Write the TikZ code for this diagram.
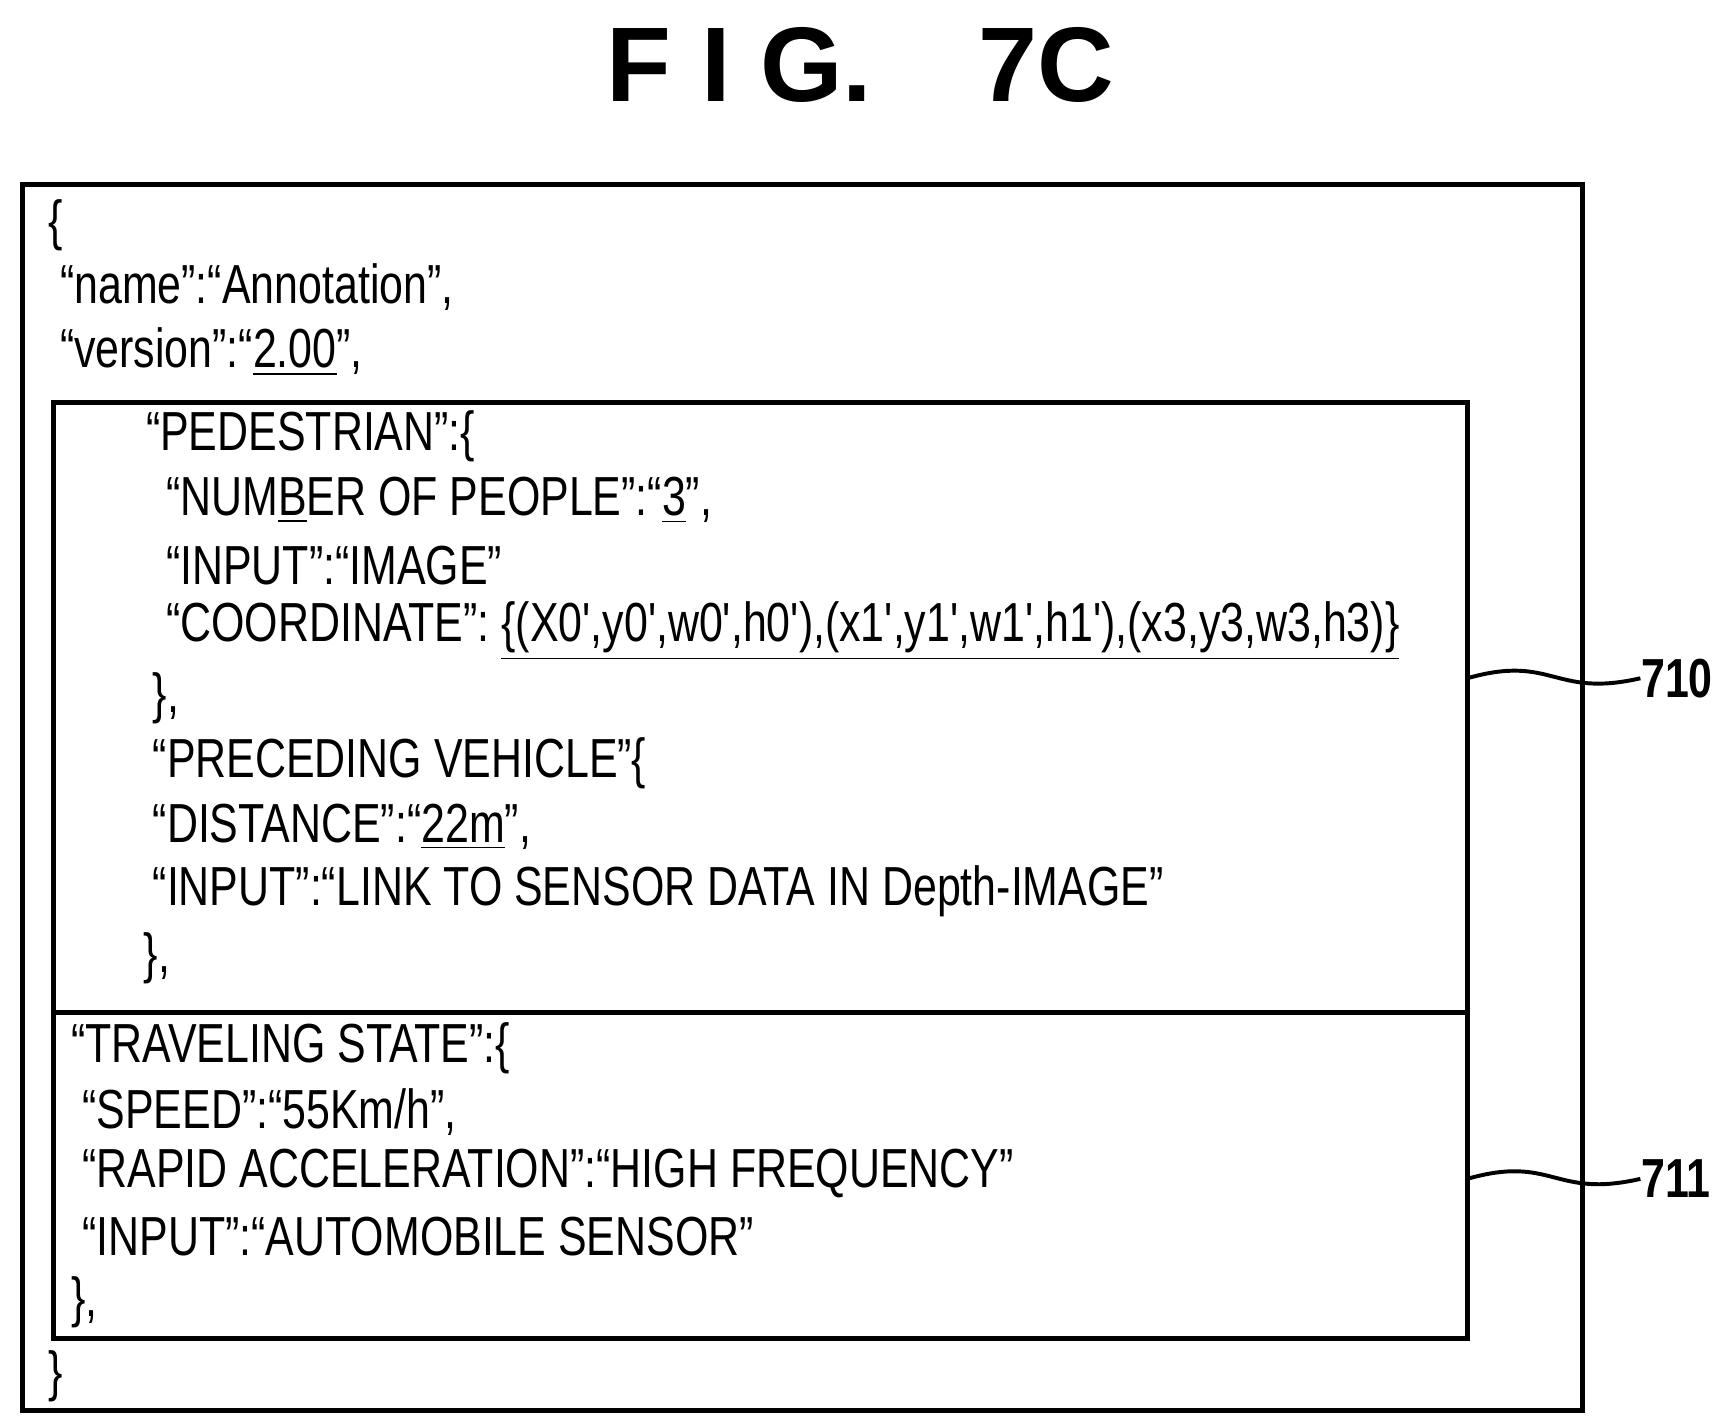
\documentclass[tikz,border=0pt]{standalone}
\usepackage{fontspec}
\setmainfont{Liberation Sans}[FakeStretch=0.78,Ligatures=TeXOff]
\newfontfamily\titlefont{Liberation Sans}[FakeStretch=1.0]
\newcommand{\pr}{'}
\begin{document}
\begin{tikzpicture}[x=0.01cm,y=-0.01cm,
    line/.style={draw,line width=1.3pt},
    code/.style={anchor=west,inner sep=0pt,font=\fontsize{14}{16}\selectfont},
    ref/.style={anchor=west,inner sep=0pt,font=\fontsize{14}{16}\selectfont\bfseries}
                   ]
    \useasboundingbox (0,0) rectangle (1550,1267);

    \node[font=\fontsize{27}{30}\selectfont\bfseries\titlefont](title) at (770,58) {F I G.\quad 7C};

    \draw[line] (20,165) rectangle (1416,1262);
    \draw[line] (48,360) rectangle (1313,1198);
    \draw[line] (48,906) -- (1313,906);
    \coordinate (e710) at (1313,607);
    \coordinate (e711) at (1313,1055);

    \node[code] (l0) at (43,202) {\{};
    \node[code] (l1) at (53,257) {“name”:“Annotation”,};
    \node[code] (l2) at (53,315) {“version”:“\underline{2.00}”,};
    \node[code] (l3) at (130,390) {“PEDESTRIAN”:\{};
    \node[code] (l4) at (148,448) {“NUM\underline{B}ER OF PEOPLE”:“\underline{3}”,};
    \node[code] (l5) at (148,506) {“INPUT”:“IMAGE”};
    \node[code] (l6) at (148,565) {“COORDINATE”:\ \underline{\{(X0\pr,y0\pr,w0\pr,h0\pr),(x1\pr,y1\pr,w1\pr,h1\pr),(x3,y3,w3,h3)\}}};
    \node[code] (l7) at (136,625) {\},};
    \node[code] (l8) at (136,683) {“PRECEDING VEHICLE”\{};
    \node[code] (l9) at (136,740) {“DISTANCE”:“\underline{22m}”,};
    \node[code] (l10) at (136,798) {“INPUT”:“LINK TO SENSOR DATA IN Depth-IMAGE”};
    \node[code] (l11) at (128,858) {\},};
    \node[code] (l12) at (63,938) {“TRAVELING STATE”:\{};
    \node[code] (l13) at (73,995) {“SPEED”:“55Km/h”,};
    \node[code] (l14) at (73,1050) {“RAPID ACCELERATION”:“HIGH FREQUENCY”};
    \node[code] (l15) at (73,1107) {“INPUT”:“AUTOMOBILE SENSOR”};
    \node[code] (l16) at (63,1165) {\},};
    \node[code] (l17) at (43,1232) {\}};

    \node[ref] (r710) at (1468,607) {710};
    \node[ref] (r711) at (1468,1055) {711};
    \draw[line width=1pt] (e710) .. controls (1390,585) and (1390,625) .. (r710.west);
    \draw[line width=1pt] (e711) .. controls (1390,1033) and (1390,1073) .. (r711.west);

\end{tikzpicture}
\end{document}
